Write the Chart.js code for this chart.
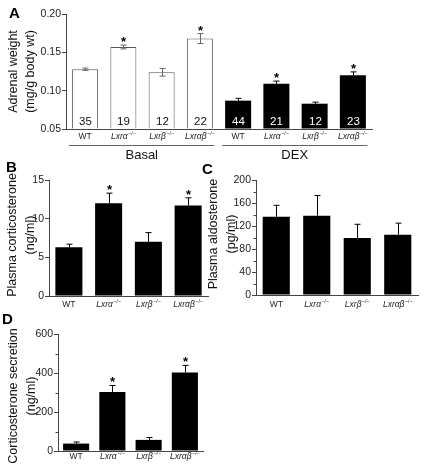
<!DOCTYPE html>
<html><head><meta charset="utf-8">
<script src="https://cdn.jsdelivr.net/npm/chart.js@4"></script>
<style>
html,body{margin:0;padding:0;background:#fff;width:424px;height:474px;overflow:hidden;}
canvas{position:absolute;}
</style></head><body>
<canvas id="cA" width="424" height="165" style="left:0;top:0"></canvas>
<canvas id="cB" width="212" height="150" style="left:0;top:160px"></canvas>
<canvas id="cC" width="224" height="150" style="left:200px;top:160px"></canvas>
<canvas id="cD" width="212" height="164" style="left:0;top:310px"></canvas>
<script>
// ---------- data ----------
const genotypes = ['WT','Lxrα','Lxrβ','Lxrαβ'];
const knockoutSuffix = ['','−/−','−/−','−/−'];
const conditionsA = ['Basal','DEX'];

const adrenalBasal    = [0.128, 0.157, 0.124, 0.168];
const adrenalBasalErr = [0.0015, 0.0025, 0.005, 0.0065];
const adrenalDex      = [0.087, 0.109, 0.083, 0.120];
const adrenalDexErr   = [0.003, 0.0035, 0.002, 0.0045];
const nBasal = [35, 19, 12, 22];
const nDex   = [44, 21, 12, 23];
const sigBasal = [false, true, false, true];
const sigDex   = [false, true, false, true];

const corticosterone    = [6.3, 12.0, 7.0, 11.7];
const corticosteroneErr = [0.4, 1.3, 1.2, 1.0];
const sigCorticosterone = [false, true, false, true];

const aldosterone    = [136, 138, 99, 105];
const aldosteroneErr = [20, 35, 24, 20];
const sigAldosterone = [false, false, false, false];

const secretion    = [38, 302, 57, 403];
const secretionErr = [8, 34, 12, 36];
const sigSecretion = [false, true, false, true];

const yTicksA = [0.05, 0.10, 0.15, 0.20];
const yTicksB = [0, 5, 10, 15];
const yTicksC = [0, 40, 80, 120, 160, 200];
const yTicksD = [0, 200, 400, 600];

// ---------- drawing ----------
const FONT = '"Liberation Sans", Arial, Helvetica, sans-serif';
const AXIS = '#444';
const WHITE = '#ffffff', BLACK = '#000000';

function drawGenotype(ctx, x, y, name, suf, size) {
  ctx.fillStyle = '#222';
  ctx.textBaseline = 'middle';
  if (!suf) {
    ctx.font = size + 'px ' + FONT; ctx.textAlign = 'center'; ctx.fillText(name, x, y); return;
  }
  const mainFont = 'italic ' + size + 'px ' + FONT;
  const supFont = (size * 0.62).toFixed(1) + 'px ' + FONT;
  ctx.font = mainFont; const w1 = ctx.measureText(name).width;
  ctx.font = supFont; const w2 = ctx.measureText(suf).width;
  const start = x - (w1 + w2 + 0.5) / 2;
  ctx.textAlign = 'left';
  ctx.font = mainFont; ctx.fillText(name, start, y);
  ctx.font = supFont; ctx.fillText(suf, start + w1 + 0.5, y - size * 0.35);
}

function makePanel(c) {
  const yMin = c.yTicks[0], yMax = c.yTicks[c.yTicks.length - 1];
  const step = c.yTicks[1] - c.yTicks[0];
  const annot = {
    id: 'annot',
    afterDraw(chart) {
      const ctx = chart.ctx, xs = chart.scales.x, ys = chart.scales.y;
      const meta = chart.getDatasetMeta(0), area = chart.chartArea;
      ctx.save();
      // minor ticks
      if (c.minorStep) {
        ctx.strokeStyle = AXIS; ctx.lineWidth = 1;
        for (let v = yMin; v <= yMax + 1e-9; v += c.minorStep) {
          const py = Math.round(ys.getPixelForValue(v)) + 0.5;
          ctx.beginPath(); ctx.moveTo(area.left - 2.5, py); ctx.lineTo(area.left, py); ctx.stroke();
        }
      }
      // error bars, asterisks, counts
      c.values.forEach((v, i) => {
        const bx = Math.round(meta.data[i].x) + 0.5;
        const pTop = ys.getPixelForValue(v + c.errors[i]);
        const pMid = ys.getPixelForValue(v);
        const pBot = ys.getPixelForValue(v - c.errors[i]);
        const white = c.fills[i] === WHITE;
        ctx.strokeStyle = white ? c.errColor : '#000'; ctx.lineWidth = 1;
        ctx.beginPath();
        ctx.moveTo(bx, white ? pBot : pMid); ctx.lineTo(bx, pTop);
        ctx.moveTo(bx - 3, pTop); ctx.lineTo(bx + 3, pTop);
        if (white) { ctx.moveTo(bx - 3, pBot); ctx.lineTo(bx + 3, pBot); }
        ctx.stroke();
        if (c.sig[i]) {
          ctx.fillStyle = '#000'; ctx.font = 'bold 13px ' + FONT;
          ctx.textAlign = 'center'; ctx.textBaseline = 'alphabetic';
          ctx.fillText('*', bx, pTop + 1);
        }
        if (c.counts) {
          ctx.fillStyle = white ? '#111' : '#fff'; ctx.font = '11.5px ' + FONT;
          ctx.textAlign = 'center'; ctx.textBaseline = 'middle';
          ctx.fillText(String(c.counts[i]), bx, area.bottom - 7.5);
        }
        drawGenotype(ctx, meta.data[i].x, area.bottom + c.labelOffset, c.labels[i], c.suffix[i], 8.5);
      });
      // group lines & labels
      if (c.groups) {
        const slot = (area.right - area.left) / c.values.length;
        c.groups.forEach((g, gi) => {
          const x0 = xs.getPixelForValue(gi * 4) - 0.42 * slot;
          const x1 = xs.getPixelForValue(gi * 4 + 3) + 0.38 * slot;
          ctx.strokeStyle = '#666'; ctx.lineWidth = 1;
          ctx.beginPath(); ctx.moveTo(x0, 145.5); ctx.lineTo(x1, 145.5); ctx.stroke();
          ctx.fillStyle = '#111'; ctx.font = '13px ' + FONT;
          ctx.textAlign = 'center'; ctx.textBaseline = 'middle';
          ctx.fillText(g, (x0 + x1) / 2, 155.5);
        });
      }
      // y title
      ctx.fillStyle = '#111'; ctx.font = '12.5px ' + FONT;
      c.titleLines.forEach((t, k) => {
        ctx.save(); ctx.translate(c.titleXs[k], c.titleY); ctx.rotate(-Math.PI / 2);
        ctx.textAlign = 'center'; ctx.textBaseline = 'middle'; ctx.fillText(t, 0, 0);
        ctx.restore();
      });
      // panel letter
      ctx.fillStyle = '#000'; ctx.font = 'bold 15px ' + FONT;
      ctx.textAlign = 'left'; ctx.textBaseline = 'middle';
      ctx.fillText(c.letter, c.letterX, c.letterY);
      ctx.restore();
    }
  };
  return new Chart(document.getElementById(c.canvas), {
    type: 'bar',
    data: {
      labels: c.labels,
      datasets: [{
        data: c.values,
        base: yMin,
        backgroundColor: c.fills,
        borderColor: c.fills.map(f => f === WHITE ? '#555' : BLACK),
        borderWidth: c.fills.map(f => f === WHITE ? 1 : 0),
        barPercentage: c.barPct, categoryPercentage: 1
      }]
    },
    options: {
      responsive: false, animation: false,
      layout: { padding: { left: 0, top: c.padTop, right: c.padRight, bottom: 0 } },
      plugins: { legend: { display: false }, tooltip: { enabled: false } },
      scales: {
        x: {
          ticks: { display: false },
          grid: { display: false, drawTicks: false },
          border: { display: true, color: AXIS, width: 1 },
          afterFit: s => { s.height = c.xHeight; }
        },
        y: {
          min: yMin, max: yMax,
          ticks: { stepSize: step, padding: 1, color: '#222', font: { family: FONT, size: 10.5 },
                   callback: v => c.fmt(v) },
          grid: { drawOnChartArea: false, drawTicks: true, tickLength: 4, color: AXIS },
          border: { display: true, color: AXIS, width: 1 },
          afterFit: s => { s.width = c.yWidth; }
        }
      }
    },
    plugins: [annot]
  });
}

const fills4 = [BLACK, BLACK, BLACK, BLACK];

makePanel({
  canvas: 'cA',
  labels: genotypes.concat(genotypes),
  suffix: knockoutSuffix.concat(knockoutSuffix),
  values: adrenalBasal.concat(adrenalDex),
  errors: adrenalBasalErr.concat(adrenalDexErr),
  sig: sigBasal.concat(sigDex),
  counts: nBasal.concat(nDex),
  fills: [WHITE, WHITE, WHITE, WHITE].concat(fills4),
  errColor: '#666',
  yTicks: yTicksA, minorStep: null, fmt: v => v.toFixed(2),
  yWidth: 66, xHeight: 36, padTop: 14, padRight: 52, barPct: 0.68,
  labelOffset: 8, groups: conditionsA,
  titleLines: ['Adrenal weight', '(mg/g body wt)'], titleXs: [14, 31], titleY: 71.5,
  letter: 'A', letterX: 9, letterY: 14
});

makePanel({
  canvas: 'cB', labels: genotypes, suffix: knockoutSuffix,
  values: corticosterone, errors: corticosteroneErr, sig: sigCorticosterone,
  fills: fills4, errColor: '#000',
  yTicks: yTicksB, minorStep: null, fmt: v => String(v),
  yWidth: 49, xHeight: 14, padTop: 20, padRight: 4, barPct: 0.68,
  labelOffset: 9,
  titleLines: ['Plasma corticosterone', '(ng/ml)'], titleXs: [13, 31], titleY: 75,
  letter: 'B', letterX: 6, letterY: 7.5
});

makePanel({
  canvas: 'cC', labels: genotypes, suffix: knockoutSuffix,
  values: aldosterone, errors: aldosteroneErr, sig: sigAldosterone,
  fills: fills4, errColor: '#000',
  yTicks: yTicksC, minorStep: 20, fmt: v => String(v),
  yWidth: 56, xHeight: 15, padTop: 20, padRight: 6, barPct: 0.67,
  labelOffset: 10,
  titleLines: ['Plasma aldosterone', '(pg/ml)'], titleXs: [14, 32], titleY: 74,
  letter: 'C', letterX: 2, letterY: 10
});

makePanel({
  canvas: 'cD', labels: genotypes, suffix: knockoutSuffix,
  values: secretion, errors: secretionErr, sig: sigSecretion,
  fills: fills4, errColor: '#000',
  yTicks: yTicksD, minorStep: 100, fmt: v => String(v),
  yWidth: 58, xHeight: 23, padTop: 24, padRight: 9, barPct: 0.72,
  labelOffset: 5.5,
  titleLines: ['Corticosterone secretion', '(ng/ml)'], titleXs: [14, 32], titleY: 86,
  letter: 'D', letterX: 2, letterY: 10
});
</script>
</body></html>
